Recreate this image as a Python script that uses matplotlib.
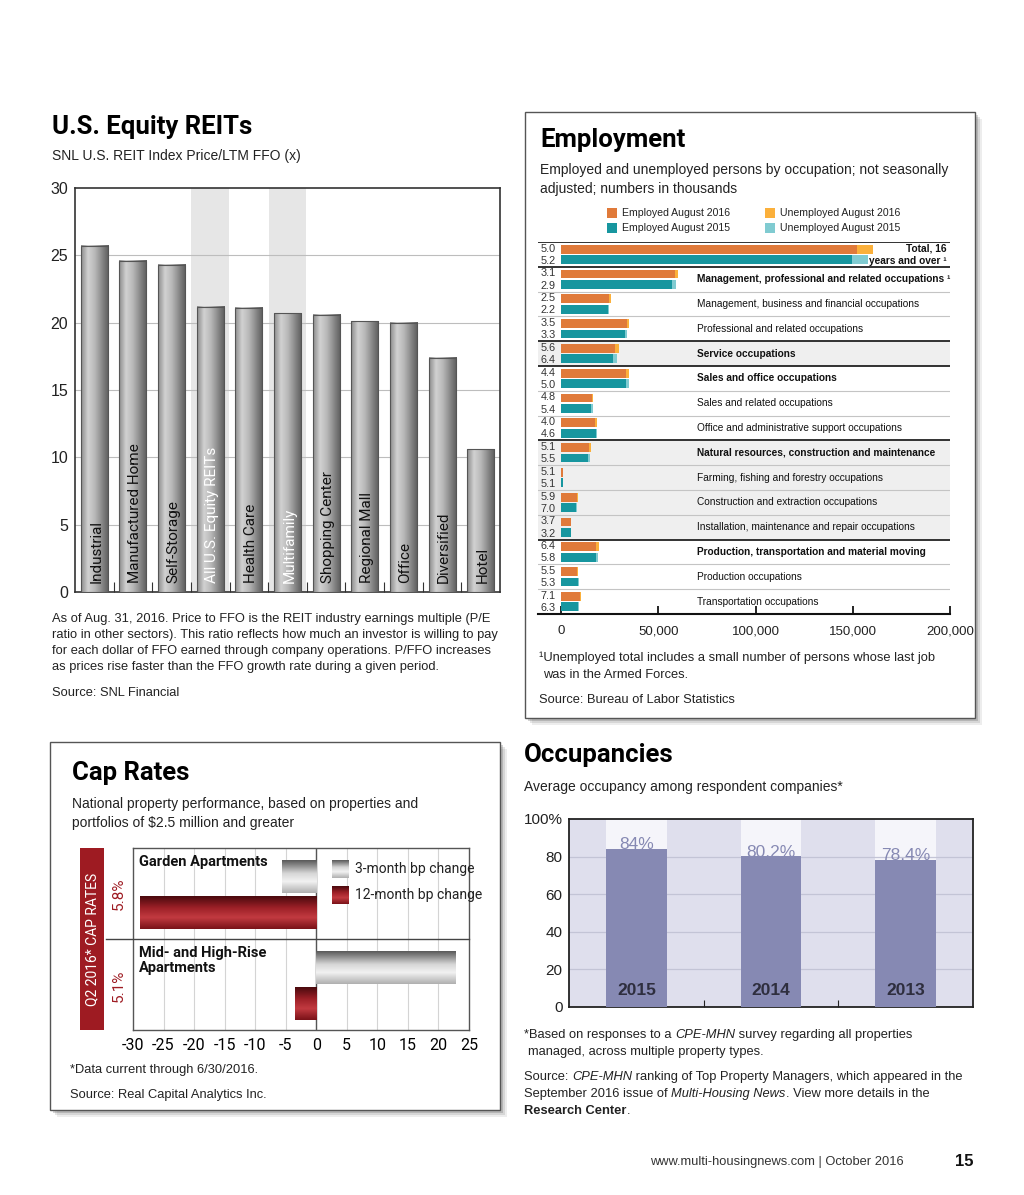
import numpy as np
import matplotlib
matplotlib.use('Agg')
import matplotlib.pyplot as plt
from matplotlib.colors import LinearSegmentedColormap
from matplotlib.patches import Rectangle

# ---- data ----
reit_names = ['Industrial', 'Manufactured Home', 'Self-Storage', 'All U.S. Equity REITs',
              'Health Care', 'Multifamily', 'Shopping Center', 'Regional Mall',
              'Office', 'Diversified', 'Hotel']
reit_pffo = [25.7, 24.6, 24.3, 21.2, 21.1, 20.7, 20.6, 20.1, 20.0, 17.4, 10.6]
reit_highlight = [False, False, False, True, False, True, False, False, False, False, False]

emp_labels = ['Total, 16\nyears and over \u00b9',
              'Management, professional and related occupations \u00b9',
              'Management, business and financial occupations',
              'Professional and related occupations',
              'Service occupations',
              'Sales and office occupations',
              'Sales and related occupations',
              'Office and administrative support occupations',
              'Natural resources, construction and maintenance',
              'Farming, fishing and forestry occupations',
              'Construction and extraction occupations',
              'Installation, maintenance and repair occupations',
              'Production, transportation and material moving',
              'Production occupations',
              'Transportation occupations']
emp_major = [True, True, False, False, True, True, False, False, True, False, False, False, True, False, False]
rate_2016 = [5.0, 3.1, 2.5, 3.5, 5.6, 4.4, 4.8, 4.0, 5.1, 5.1, 5.9, 3.7, 6.4, 5.5, 7.1]
rate_2015 = [5.2, 2.9, 2.2, 3.3, 6.4, 5.0, 5.4, 4.6, 5.5, 5.1, 7.0, 3.2, 5.8, 5.3, 6.3]
employed_2016 = [152200, 58400, 24800, 33700, 27900, 33400, 15900, 17600, 14500, 1100, 8200, 4900, 18100, 8200, 9600]
unemployed_2016 = [8000, 1900, 650, 1200, 1700, 1500, 800, 700, 800, 60, 500, 190, 1200, 480, 730]
employed_2015 = [149400, 57200, 24200, 33000, 26900, 33400, 15600, 17800, 14000, 1000, 7700, 4900, 17900, 8700, 8900]
unemployed_2015 = [8200, 1700, 550, 1100, 1800, 1800, 900, 900, 800, 55, 580, 160, 1100, 490, 600]

cap_groups = ['Garden Apartments', 'Mid- and High-Rise\nApartments']
cap_rates = ['5.8%', '5.1%']
bp_3month = [-5.6, 22.8]
bp_12month = [-28.9, -3.5]

occ_years = ['2015', '2014', '2013']
occ_values = [84.0, 80.2, 78.4]
occ_labels = ['84%', '80.2%', '78.4%']

# ---- page setup ----
W, H = 1024, 1195
fig = plt.figure(figsize=(W / 100, H / 100), dpi=100)
fig.patch.set_facecolor('white')
SANS = ['Liberation Sans', 'DejaVu Sans']
NARROW = ['Roboto', 'Liberation Sans', 'DejaVu Sans']
plt.rcParams['font.family'] = SANS
plt.rcParams['axes.unicode_minus'] = False


def px_axes(x0, y0, x1, y1):
    return fig.add_axes([x0 / W, 1 - y1 / H, (x1 - x0) / W, (y1 - y0) / H])


def T(x, y, s, **kw):
    kw.setdefault('va', 'center')
    kw.setdefault('ha', 'left')
    return fig.text(x / W, 1 - y / H, s, **kw)


def rich(x, y, parts, size):
    r = fig.canvas.get_renderer()
    cx = x
    for s, kw in parts:
        t = T(cx, y, s, fontsize=size, color='#222222', **kw)
        cx += t.get_window_extent(renderer=r).width


def panel(x0, y0, x1, y1):
    for off, a in [(7, 0.10), (5, 0.15), (3, 0.25)]:
        fig.patches.append(Rectangle((x0 / W + off / W, 1 - (y1 + off) / H), (x1 - x0) / W, (y1 - y0) / H,
                                     transform=fig.transFigure, facecolor='#555555', alpha=a,
                                     edgecolor='none', zorder=-3))
    fig.patches.append(Rectangle((x0 / W, 1 - y1 / H), (x1 - x0) / W, (y1 - y0) / H,
                                 transform=fig.transFigure, facecolor='white',
                                 edgecolor='#555555', lw=1, zorder=-2))


# ================= U.S. Equity REITs =================
T(52, 127, 'U.S. Equity REITs', fontsize=18.5, fontweight='bold', family=NARROW)
T(52, 156, 'SNL U.S. REIT Index Price/LTM FFO (x)', fontsize=10, color='#222222')

ax1 = px_axes(75, 188, 500, 592)
grey_cm = LinearSegmentedColormap.from_list('g', ['#8c8c8c', '#d2d2d2', '#b8b8b8', '#8a8a8a', '#5c5c5c'])
x = np.arange(len(reit_names))
bw = 0.70
for i, (name, v, hl) in enumerate(zip(reit_names, reit_pffo, reit_highlight)):
    if hl:
        ax1.axvspan(i - 0.49, i + 0.49, color='#e6e6e6', zorder=0.5, lw=0)
    ax1.imshow(np.linspace(0, 1, 64).reshape(1, -1), extent=(i - bw / 2, i + bw / 2, 0, v),
               cmap=grey_cm, aspect='auto', zorder=3, interpolation='bilinear')
    ax1.add_patch(Rectangle((i - bw / 2, 0), bw, v, facecolor='none', edgecolor='#555555', lw=0.8, zorder=4))
    ax1.text(i + 0.05, 0.7, name, rotation=90, ha='center', va='bottom', fontsize=11,
             family=NARROW, color='white' if hl else '#111111', zorder=5)
ax1.set_xlim(-0.5, len(reit_names) - 0.5)
ax1.set_ylim(0, 30)
ax1.set_yticks(range(0, 31, 5))
for gy in range(5, 30, 5):
    ax1.axhline(gy, color='#bdbdbd', lw=0.8, zorder=1)
ax1.set_xticks(x[:-1] + 0.5)
ax1.set_xticklabels([])
ax1.tick_params(axis='x', direction='in', length=7, color='#333333')
ax1.tick_params(axis='y', length=0, pad=5, labelsize=11.5, labelcolor='#222222')
for sp in ax1.spines.values():
    sp.set_color('#333333')
    sp.set_linewidth(1.2)

T(52, 643, 'As of Aug. 31, 2016. Price to FFO is the REIT industry earnings multiple (P/E\n'
           'ratio in other sectors). This ratio reflects how much an investor is willing to pay\n'
           'for each dollar of FFO earned through company operations. P/FFO increases\n'
           'as prices rise faster than the FFO growth rate during a given period.',
  fontsize=9.3, color='#222222', linespacing=1.45)
T(52, 693, 'Source: SNL Financial', fontsize=9.3, color='#222222')

# ================= Employment =================
panel(525, 112, 975, 718)
T(540, 140, 'Employment', fontsize=18.5, fontweight='bold', family=NARROW)
T(540, 170, 'Employed and unemployed persons by occupation; not seasonally', fontsize=10, color='#222222')
T(540, 189, 'adjusted; numbers in thousands', fontsize=10, color='#222222')

c_emp16, c_un16 = '#e07a3a', '#fbb03b'
c_emp15, c_un15 = '#17969f', '#80cbd1'
for (sx, sy, col, lab) in [(607, 213, c_emp16, 'Employed August 2016'),
                           (607, 228, c_emp15, 'Employed August 2015'),
                           (765, 213, c_un16, 'Unemployed August 2016'),
                           (765, 228, c_un15, 'Unemployed August 2015')]:
    fig.patches.append(Rectangle((sx / W, 1 - (sy + 5) / H), 10 / W, 10 / H, transform=fig.transFigure,
                                 facecolor=col, edgecolor='none'))
    T(sx + 15, sy, lab, fontsize=7.6, color='#222222')

ax2 = px_axes(538, 242, 950, 614)
n = len(emp_labels)
xmin = -23 * 200000 / 389
ax2.set_xlim(xmin, 200000)
ax2.set_ylim(n, 0)
ax2.axhspan(4, 5, color='#efefef', lw=0, zorder=0)
ax2.axhspan(8, 12, color='#efefef', lw=0, zorder=0)
yi = np.arange(n)
bh = 0.36
ax2.barh(yi + 0.29, employed_2016, height=bh, color=c_emp16, zorder=3)
ax2.barh(yi + 0.29, unemployed_2016, left=employed_2016, height=bh, color=c_un16, zorder=3)
ax2.barh(yi + 0.71, employed_2015, height=bh, color=c_emp15, zorder=3)
ax2.barh(yi + 0.71, unemployed_2015, left=employed_2015, height=bh, color=c_un15, zorder=3)
for i in range(n):
    ax2.text(0.007, i + 0.27, f'{rate_2016[i]:.1f}', transform=ax2.get_yaxis_transform(),
             fontsize=7.8, va='center', ha='left', color='#333333')
    ax2.text(0.007, i + 0.76, f'{rate_2015[i]:.1f}', transform=ax2.get_yaxis_transform(),
             fontsize=7.8, va='center', ha='left', color='#333333')
    if i == 0:
        ax2.text(0.993, i + 0.5, emp_labels[i], transform=ax2.get_yaxis_transform(), fontsize=7.3,
                 fontweight='bold', ha='right', va='center', linespacing=1.35, color='#111111')
    else:
        ax2.text(0.386, i + 0.5, emp_labels[i], transform=ax2.get_yaxis_transform(), fontsize=7.3,
                 fontweight='bold' if emp_major[i] else 'normal', ha='left', va='center',
                 color='#111111')
    if emp_major[i]:
        ax2.axhline(i, color='#222222', lw=1.3, zorder=4)
    else:
        ax2.axhline(i, color='#c4c4c4', lw=0.8, zorder=4)
for sp in ['top', 'right', 'left']:
    ax2.spines[sp].set_visible(False)
ax2.spines['bottom'].set_linewidth(1.5)
ax2.spines['bottom'].set_color('#111111')
ax2.set_yticks([])
ax2.set_xticks([0, 50000, 100000, 150000, 200000])
ax2.set_xticklabels(['0', '50,000', '100,000', '150,000', '200,000'])
ax2.tick_params(axis='x', direction='in', length=6, width=1.2, pad=8, labelsize=9.5, labelcolor='#222222')

T(539, 658, '\u00b9Unemployed total includes a small number of persons whose last job', fontsize=9.3, color='#222222')
T(543, 675, 'was in the Armed Forces.', fontsize=9.3, color='#222222')
T(539, 700, 'Source: Bureau of Labor Statistics', fontsize=9.3, color='#222222')

# ================= Cap Rates =================
panel(50, 742, 500, 1110)
T(72, 773, 'Cap Rates', fontsize=18.5, fontweight='bold', family=NARROW)
T(72, 804, 'National property performance, based on properties and', fontsize=10, color='#222222')
T(72, 823, 'portfolios of $2.5 million and greater', fontsize=10, color='#222222')

red = '#9e1b22'
fig.patches.append(Rectangle((80 / W, 1 - 1030 / H), 24 / W, 182 / H, transform=fig.transFigure,
                             facecolor=red, edgecolor='none'))
T(92, 939, 'Q2 2016* CAP RATES', rotation=90, ha='center', fontsize=10, color='white', family=NARROW)
T(119, 894, cap_rates[0], rotation=90, ha='center', fontsize=11, color=red, family=NARROW)
T(119, 986, cap_rates[1], rotation=90, ha='center', fontsize=11, color=red, family=NARROW)

cm3 = LinearSegmentedColormap.from_list('c3', [(0, '#b0b0b0'), (0.35, '#f2f2f2'), (0.6, '#d6d6d6'), (1, '#5a5a5a')])
cm12 = LinearSegmentedColormap.from_list('c12', [(0, '#7a1218'), (0.35, '#c23a40'), (0.65, '#9c2027'), (1, '#4a0a0e')])
vgrad = np.linspace(0, 1, 64).reshape(-1, 1)

ax3 = px_axes(133, 848, 469, 1030)
ax3.set_xlim(-30, 25)
ax3.set_ylim(0, 2)
for gx in range(-25, 25, 5):
    ax3.axvline(gx, color='#d4d4d4', lw=0.8, zorder=1)
ax3.axvline(0, color='#555555', lw=1, zorder=2)
ch = 0.36
for g in range(len(cap_groups)):
    top = 2 - g
    for val, yc, cm in [(bp_3month[g], top - 0.31, cm3), (bp_12month[g], top - 0.71, cm12)]:
        ax3.imshow(vgrad, extent=(min(0, val), max(0, val), yc - ch / 2, yc + ch / 2), origin='lower',
                   cmap=cm, aspect='auto', zorder=3, interpolation='bilinear')
    ax3.text(0.018, top - 0.08, cap_groups[g], transform=ax3.get_yaxis_transform(), fontsize=10.5,
             fontweight='bold', family=NARROW, va='top', ha='left', linespacing=1.1, color='#111111')
ax3.set_xlim(-30, 25)
ax3.set_ylim(0, 2)
ax3.plot([-0.08, 1], [0.5, 0.5], transform=ax3.transAxes, color='#444444', lw=1, clip_on=False, zorder=5)
ax3.set_yticks([])
ax3.set_xticks(range(-30, 26, 5))
ax3.tick_params(axis='x', length=0, pad=6, labelsize=11.5)
for lab in ax3.get_xticklabels():
    lab.set_family(NARROW)
for sp in ax3.spines.values():
    sp.set_color('#555555')
    sp.set_linewidth(1)

for (sy, cm, lab) in [(860, cm3, '3-month bp change'), (886, cm12, '12-month bp change')]:
    sw = px_axes(332, sy, 349, sy + 18)
    sw.imshow(vgrad, cmap=cm, aspect='auto', origin='lower', extent=(0, 1, 0, 1))
    sw.axis('off')
    T(355, sy + 9, lab, fontsize=10, family=NARROW, color='#222222')

T(70, 1070, '*Data current through 6/30/2016.', fontsize=9.3, color='#222222')
T(70, 1095, 'Source: Real Capital Analytics Inc.', fontsize=9.3, color='#222222')

# ================= Occupancies =================
T(524, 755, 'Occupancies', fontsize=18.5, fontweight='bold', family=NARROW)
T(524, 787, 'Average occupancy among respondent companies*', fontsize=10, color='#222222')

ax4 = px_axes(569, 819, 973, 1007)
ax4.set_facecolor('#dfdfed')
occ_bw = 0.45
xo = np.arange(len(occ_years))
for i in xo:
    ax4.axvspan(i - occ_bw / 2, i + occ_bw / 2, color='#f5f5fa', lw=0, zorder=0.5)
for gy in [20, 40, 60, 80]:
    ax4.axhline(gy, color='#c3c4d6', lw=0.9, zorder=1)
ax4.bar(xo, occ_values, width=occ_bw, color='#8689b3', zorder=3)
for i, (v, lab, yr) in enumerate(zip(occ_values, occ_labels, occ_years)):
    ax4.text(i, v - 1.8, lab, ha='center', va='bottom', fontsize=12.5, color='#8689b3', zorder=4)
    ax4.text(i, 9, yr, ha='center', va='center', fontsize=12.5, fontweight='bold', color='#2e2e3e', zorder=4)
ax4.set_xlim(-0.5, 2.5)
ax4.set_ylim(0, 100)
ax4.set_yticks([0, 20, 40, 60, 80, 100])
ax4.set_yticklabels(['0', '20', '40', '60', '80', '100%'])
ax4.set_xticks([0.5, 1.5])
ax4.set_xticklabels([])
ax4.tick_params(axis='x', direction='in', length=5, color='#222222')
ax4.tick_params(axis='y', length=0, pad=4.5, labelsize=11, labelcolor='#222222')
for sp in ax4.spines.values():
    sp.set_color('#222222')
    sp.set_linewidth(1.3)

rich(524, 1035, [('*Based on responses to a ', {}), ('CPE-MHN', {'style': 'italic'}),
                 (' survey regarding all properties', {})], 9.3)
T(528, 1052, 'managed, across multiple property types.', fontsize=9.3, color='#222222')
rich(524, 1077, [('Source: ', {}), ('CPE-MHN', {'style': 'italic'}),
                 (' ranking of Top Property Managers, which appeared in the', {})], 9.3)
rich(524, 1094, [('September 2016 issue of ', {}), ('Multi-Housing News', {'style': 'italic'}),
                 ('. View more details in the', {})], 9.3)
rich(524, 1111, [('Research Center', {'fontweight': 'bold'}), ('.', {})], 9.3)

# footer
T(650, 1162, 'www.multi-housingnews.com | October 2016', fontsize=9.3, color='#333333')
T(955, 1161, '15', fontsize=12, fontweight='bold', color='#111111')

fig.savefig('out.png', dpi=100)
